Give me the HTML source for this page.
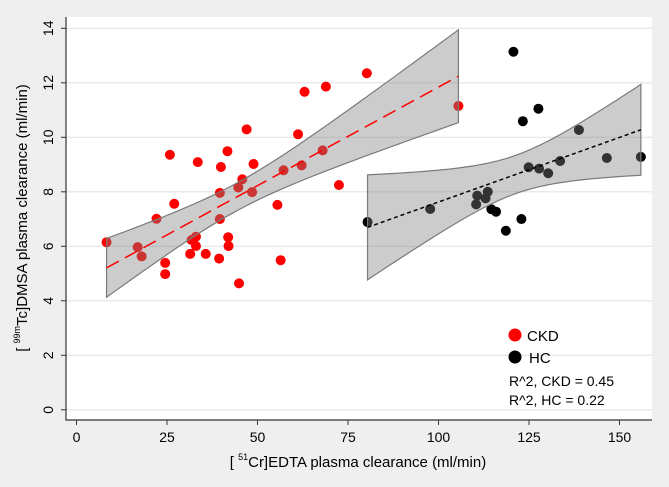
<!DOCTYPE html>
<html><head><meta charset="utf-8"><style>
html,body{margin:0;padding:0;background:#efefef;}
svg{display:block;font-family:"Liberation Sans",sans-serif;}
</style></head><body>
<svg id="chart" width="669" height="487" viewBox="0 0 669 487">
<rect x="0" y="0" width="669" height="487" fill="#efefef"/>
<rect x="66" y="17" width="586" height="403" fill="#ffffff"/>
<g id="grid"></g><g id="pts"></g><g id="bands"></g><g id="axes"></g>
<g>
<circle cx="515" cy="335" r="6.5" fill="#ff0000"/>
<text x="527" y="341" font-size="15">CKD</text>
<circle cx="515" cy="357" r="6.5" fill="#000"/>
<text x="529" y="363" font-size="15">HC</text>
<text x="509" y="386" font-size="14">R^2, CKD = 0.45</text>
<text x="509" y="405" font-size="14">R^2, HC = 0.22</text>
</g>
<text transform="translate(27,218) rotate(-90)" text-anchor="middle" font-size="15">[ <tspan font-size="9" dy="-7">99m</tspan><tspan dy="7">Tc]DMSA plasma clearance (ml/min)</tspan></text>
<text x="358" y="467" text-anchor="middle" font-size="15">[ <tspan font-size="9" dy="-7">51</tspan><tspan dy="7">Cr]EDTA plasma clearance (ml/min)</tspan></text>
</svg>
<script>
const ckdX=[8.3,16.9,18.0,22.1,24.5,24.5,25.8,27.0,31.4,31.8,33.0,33.0,33.5,35.7,39.4,39.6,39.6,39.9,41.7,41.9,42.0,44.9,44.7,45.8,47.0,48.5,48.9,55.5,56.4,57.2,61.2,62.2,63.0,68.0,68.9,72.5,80.2,105.5];
const ckdY=[6.15,5.97,5.63,7.01,5.39,4.98,9.36,7.56,5.72,6.23,6.35,6.01,9.09,5.72,5.55,7.0,7.96,8.91,9.49,6.33,6.01,4.64,8.16,8.46,10.29,7.99,9.02,7.52,5.49,8.79,10.11,8.97,11.67,9.52,11.86,8.25,12.35,11.15];
const hcX=[80.4,97.7,110.4,110.7,113.0,113.6,114.6,115.9,118.6,120.7,122.9,123.3,124.9,127.6,127.8,130.3,133.6,138.8,146.5,155.9];
const hcY=[6.89,7.37,7.54,7.86,7.76,8.0,7.36,7.27,6.57,13.14,7.0,10.59,8.9,11.05,8.85,8.68,9.13,10.27,9.24,9.28];
const xTicks=[0,25,50,75,100,125,150];
const yTicks=[0,2,4,6,8,10,12,14];
const NS="http://www.w3.org/2000/svg";
const sx=v=>76.5+v*3.62, sy=v=>409.8-v*27.25;
function mk(t,a,p){const e=document.createElementNS(NS,t);for(const k in a)e.setAttribute(k,a[k]);document.getElementById(p).appendChild(e);return e;}
yTicks.forEach(v=>{
 const g=mk('line',{x1:66,x2:652,y1:sy(v),y2:sy(v),stroke:'#e4e4e4','stroke-width':1.2},'grid');
 
 
 const t=mk('line',{x1:61,x2:66,y1:sy(v),y2:sy(v),stroke:'#333'},'axes');
 
 
 const l=mk('text',{transform:`translate(53,${sy(v)}) rotate(-90)`,'text-anchor':'middle','font-size':14},'axes');
 l.textContent=v;
 
 
});
xTicks.forEach(v=>{
 const t=mk('line',{x1:sx(v),x2:sx(v),y1:420,y2:425,stroke:'#333'},'axes');
 
 
 const l=mk('text',{x:sx(v),y:442,'text-anchor':'middle','font-size':14},'axes');
 l.textContent=v;
 
 
});
const ax=mk('path',{d:'M66,17 V420 H652',fill:'none',stroke:'#333','stroke-width':1.2},'axes');


function draw(X,Y,col,name,dash,tval){
 X.forEach((x,i)=>{const c=mk('circle',{cx:sx(x),cy:sy(Y[i]),r:5,fill:col},'pts');
  
  });
 const n=X.length,mx=X.reduce((a,b)=>a+b)/n,my=Y.reduce((a,b)=>a+b)/n;
 let sxx=0,sxy=0;X.forEach((x,i)=>{sxx+=(x-mx)**2;sxy+=(x-mx)*(Y[i]-my);});
 const b=sxy/sxx,a=my-b*mx;let sse=0;X.forEach((x,i)=>{sse+=(Y[i]-a-b*x)**2;});
 const s=Math.sqrt(sse/(n-2));
 const x0=Math.min(...X),x1=Math.max(...X);const up=[],lo=[];
 for(let k=0;k<=40;k++){const x=x0+(x1-x0)*k/40,se=s*Math.sqrt(1/n+(x-mx)**2/sxx)*tval,f=a+b*x;
  up.push(sx(x)+','+sy(f+se));lo.unshift(sx(x)+','+sy(f-se));}
 const p=mk('polygon',{points:up.concat(lo).join(' '),fill:'rgba(128,128,128,0.4)',stroke:'#7a7a7a','stroke-width':1.2},'bands');
 
 
 const l=mk('line',{x1:sx(x0),y1:sy(a+b*x0),x2:sx(x1),y2:sy(a+b*x1),stroke:col,'stroke-width':1.5,'stroke-dasharray':dash},'bands');
 
 
}
draw(ckdX,ckdY,'#ff0000','ckd','14,7',2.03);
draw(hcX,hcY,'#000000','hc','4,3',2.1);
</script>
</body></html>
